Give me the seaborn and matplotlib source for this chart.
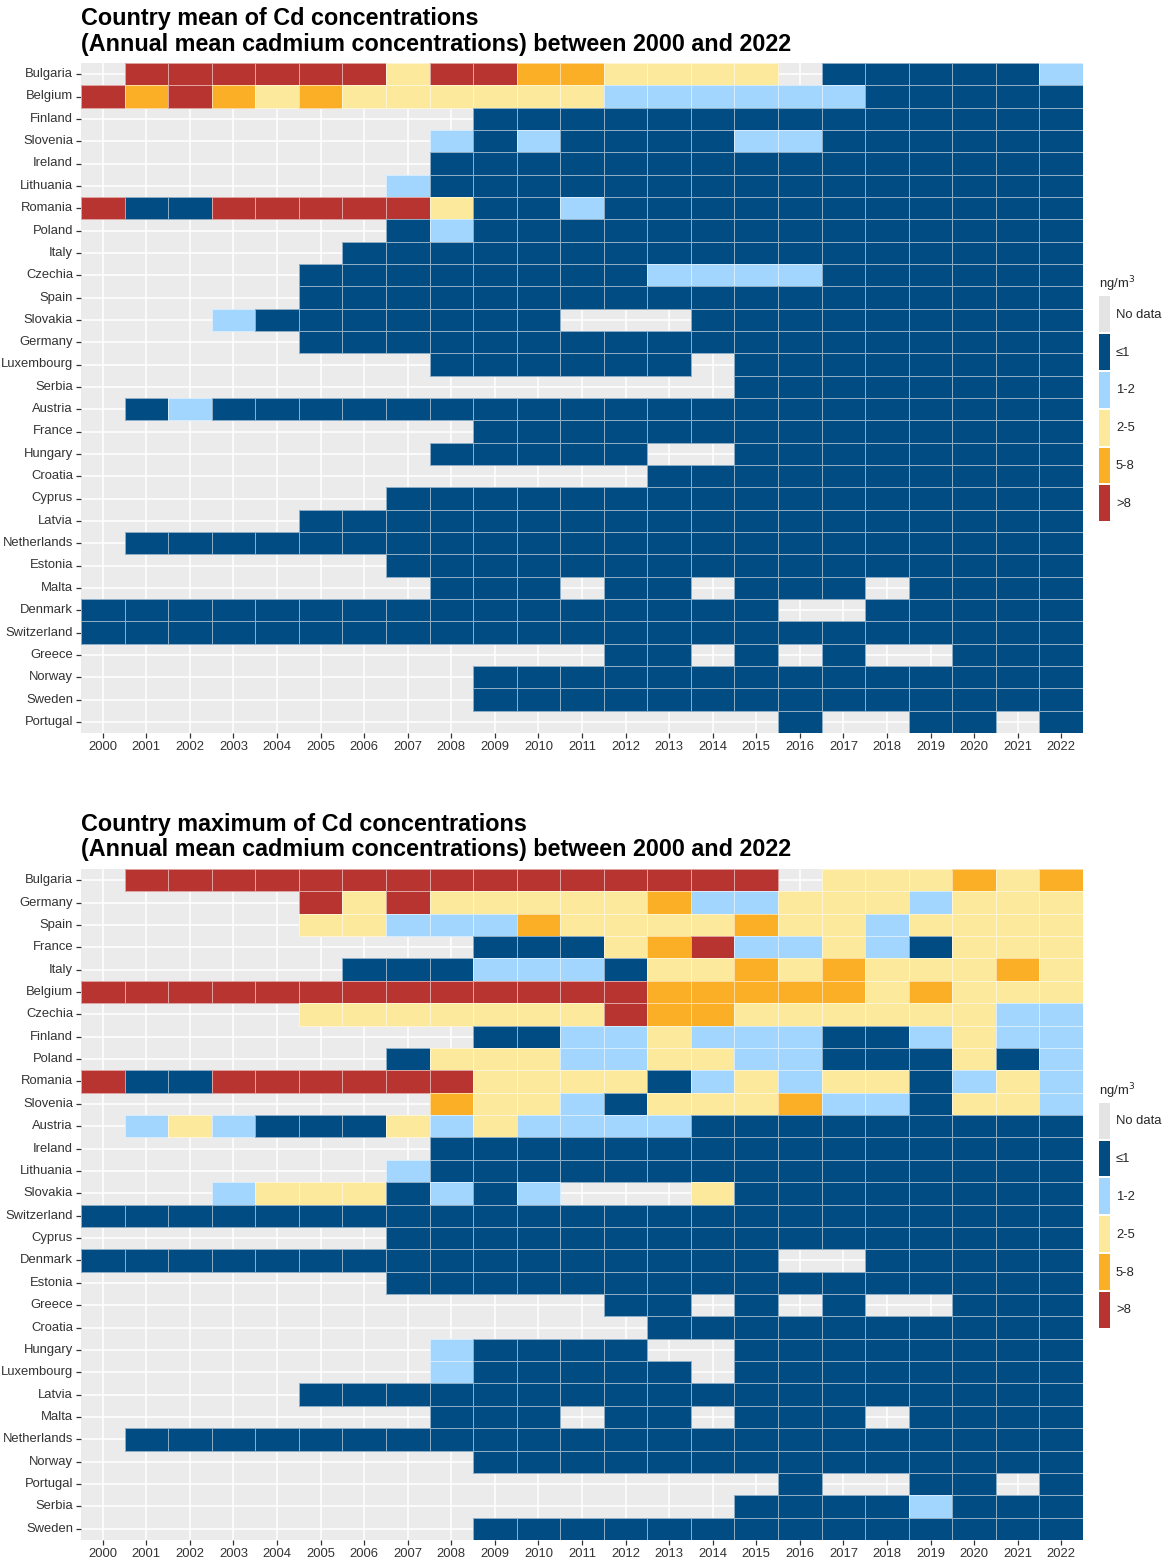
import numpy as np
import pandas as pd
import matplotlib
matplotlib.use("Agg")
import matplotlib.pyplot as plt
import seaborn as sns
from matplotlib.colors import ListedColormap
from matplotlib.patches import Patch

years = list(range(2000, 2023))

# Concentration classes: 0 = no data, 1 = <=1, 2 = 1-2, 3 = 2-5, 4 = 5-8, 5 = >8 (ng/m3)
class_labels = ["No data", "≤1", "1-2", "2-5", "5-8", ">8"]
class_colors = ["#E4E4E4", "#004C83", "#A2D6FE", "#FCE99C", "#FBAF26", "#B73431"]

# Country mean classes, one string per country, one digit per year 2000-2022
mean_countries = [
    "Bulgaria", "Belgium", "Finland", "Slovenia", "Ireland", "Lithuania",
    "Romania", "Poland", "Italy", "Czechia", "Spain", "Slovakia", "Germany",
    "Luxembourg", "Serbia", "Austria", "France", "Hungary", "Croatia",
    "Cyprus", "Latvia", "Netherlands", "Estonia", "Malta", "Denmark",
    "Switzerland", "Greece", "Norway", "Sweden", "Portugal",
]
mean_classes = [
    "05555553554433330111112",  # Bulgaria
    "54543433333322222211111",  # Belgium
    "00000000011111111111111",  # Finland
    "00000000212111122111111",  # Slovenia
    "00000000111111111111111",  # Ireland
    "00000002111111111111111",  # Lithuania
    "51155555311211111111111",  # Romania
    "00000001211111111111111",  # Poland
    "00000011111111111111111",  # Italy
    "00000111111112222111111",  # Czechia
    "00000111111111111111111",  # Spain
    "00021111111000111111111",  # Slovakia
    "00000111111111111111111",  # Germany
    "00000000111111011111111",  # Luxembourg
    "00000000000000011111111",  # Serbia
    "01211111111111111111111",  # Austria
    "00000000011111111111111",  # France
    "00000000111110011111111",  # Hungary
    "00000000000001111111111",  # Croatia
    "00000001111111111111111",  # Cyprus
    "00000111111111111111111",  # Latvia
    "01111111111111111111111",  # Netherlands
    "00000001111111111111111",  # Estonia
    "00000000111011011101111",  # Malta
    "11111111111111110011111",  # Denmark
    "11111111111111111111111",  # Switzerland
    "00000000000011010100111",  # Greece
    "00000000011111111111111",  # Norway
    "00000000011111111111111",  # Sweden
    "00000000000000001001101",  # Portugal
]

# Country maximum classes
max_countries = [
    "Bulgaria", "Germany", "Spain", "France", "Italy", "Belgium", "Czechia",
    "Finland", "Poland", "Romania", "Slovenia", "Austria", "Ireland",
    "Lithuania", "Slovakia", "Switzerland", "Cyprus", "Denmark", "Estonia",
    "Greece", "Croatia", "Hungary", "Luxembourg", "Latvia", "Malta",
    "Netherlands", "Norway", "Portugal", "Serbia", "Sweden",
]
max_classes = [
    "05555555555555550333434",  # Bulgaria
    "00000535333334223332333",  # Germany
    "00000332224333343323333",  # Spain
    "00000000011134522321333",  # France
    "00000011122213343433343",  # Italy
    "55555555555554444434333",  # Belgium
    "00000333333354433333322",  # Czechia
    "00000000011223222112322",  # Finland
    "00000001333223322111312",  # Poland
    "51155555533331232331232",  # Romania
    "00000000433213334221332",  # Slovenia
    "02321113232222111111111",  # Austria
    "00000000111111111111111",  # Ireland
    "00000002111111111111111",  # Lithuania
    "00023331212000311111111",  # Slovakia
    "11111111111111111111111",  # Switzerland
    "00000001111111111111111",  # Cyprus
    "11111111111111110011111",  # Denmark
    "00000001111111111111111",  # Estonia
    "00000000000011010100111",  # Greece
    "00000000000001111111111",  # Croatia
    "00000000211110011111111",  # Hungary
    "00000000211111011111111",  # Luxembourg
    "00000111111111111111111",  # Latvia
    "00000000111011011101111",  # Malta
    "01111111111111111111111",  # Netherlands
    "00000000011111111111111",  # Norway
    "00000000000000001001101",  # Portugal
    "00000000000000011112111",  # Serbia
    "00000000011111111111111",  # Sweden
]

mean_title = ("Country mean of Cd concentrations\n"
              "(Annual mean cadmium concentrations) between 2000 and 2022")
max_title = ("Country maximum of Cd concentrations\n"
             "(Annual mean cadmium concentrations) between 2000 and 2022")

sns.set_theme(style="darkgrid")
plt.rcParams["font.family"] = ["Liberation Sans", "DejaVu Sans"]

W, H = 1164, 1564
fig = plt.figure(figsize=(W / 100, H / 100), dpi=100)
fig.patch.set_facecolor("white")

TEXT = "#333333"
FS = 9.4


def draw_panel(ax, countries, rows, title):
    codes = np.array([[int(ch) for ch in r] for r in rows], dtype=float)
    codes[codes == 0] = np.nan
    df = pd.DataFrame(codes, index=countries, columns=years)
    cmap = ListedColormap(class_colors[1:])
    sns.heatmap(df, ax=ax, cmap=cmap, vmin=0.5, vmax=5.5, cbar=False,
                linewidths=0.6, linecolor="white",
                xticklabels=years, yticklabels=countries)
    # thin translucent tile borders, none on empty cells
    mesh = ax.collections[0]
    edges = np.array([(0, 0, 0, 0) if np.isnan(v) else (1, 1, 1, 0.55)
                      for v in codes.ravel()])
    mesh.set_edgecolor(edges)

    ax.set_facecolor("#EBEBEB")
    ax.set_axisbelow(True)
    ax.grid(True, color="white", linewidth=1.1)
    for s in ax.spines.values():
        s.set_visible(False)
    ax.set_xlabel("")
    ax.set_ylabel("")
    ax.tick_params(axis="both", which="major", length=3.5, width=0.9,
                   color="#333333", labelsize=FS, labelcolor=TEXT,
                   bottom=True, left=True, pad=2.2)
    plt.setp(ax.get_yticklabels(), rotation=0)
    plt.setp(ax.get_xticklabels(), rotation=0)

    ax.set_title(title, loc="left", fontsize=16.8, fontweight="bold",
                 color="black", pad=9, linespacing=1.15)

    handles = [Patch(facecolor=c, edgecolor="none") for c in class_colors]
    ax.legend(handles, class_labels, title="ng/m$^3$", loc="center left",
              bbox_to_anchor=(1.016, 0.5), frameon=False, fontsize=FS,
              title_fontsize=FS, handlelength=0.85, handleheight=3.85,
              handletextpad=0.45, labelspacing=0.15, borderpad=0,
              borderaxespad=0, alignment="left")


left, right = 81, 1083
ax1 = fig.add_axes([left / W, 1 - 733 / H, (right - left) / W, (733 - 63) / H])
ax2 = fig.add_axes([left / W, 1 - 1540 / H, (right - left) / W, (1540 - 869) / H])

draw_panel(ax1, mean_countries, mean_classes, mean_title)
draw_panel(ax2, max_countries, max_classes, max_title)

fig.savefig("out.png", dpi=100, facecolor="white")
